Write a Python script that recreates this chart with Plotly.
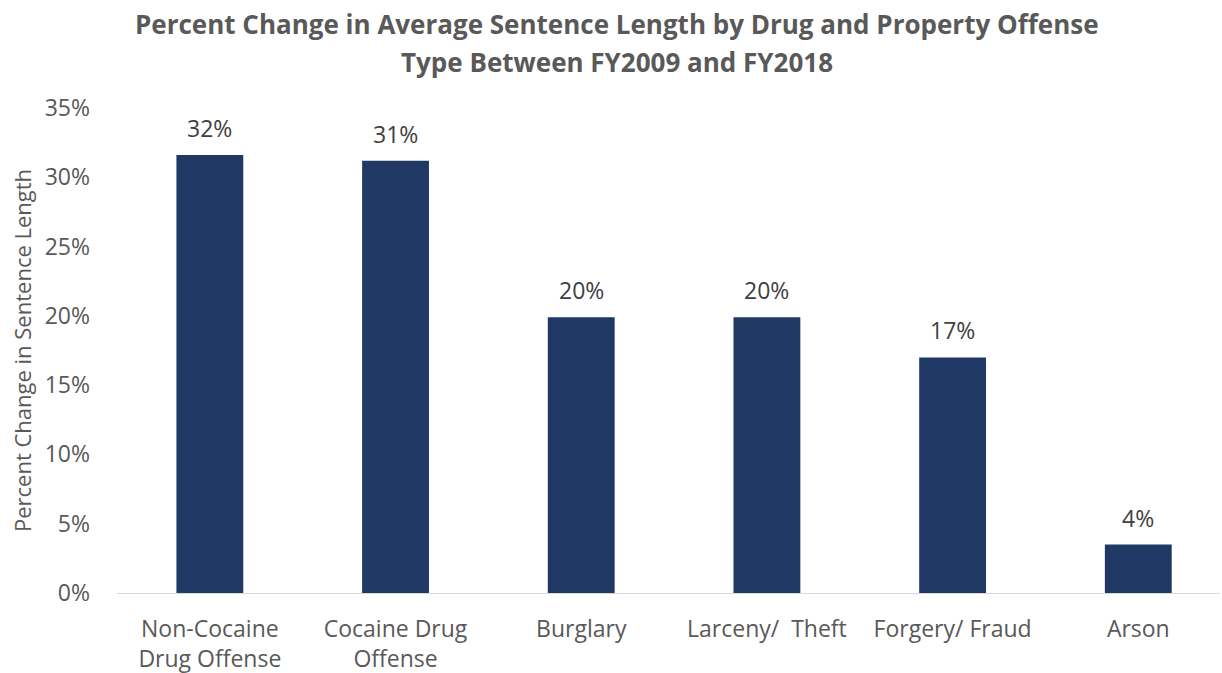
import plotly.graph_objects as go

categories = ["Non-Cocaine<br>Drug Offense", "Cocaine Drug<br>Offense", "Burglary",
              "Larceny/  Theft", "Forgery/ Fraud", "Arson"]
values = [0.316, 0.312, 0.199, 0.199, 0.170, 0.035]
labels = ["32%", "31%", "20%", "20%", "17%", "4%"]
title_lines = ["Percent Change in Average Sentence Length by Drug and Property Offense",
               "Type Between FY2009 and FY2018"]

FONT = "Open Sans"
TOP, BOTTOM, H = 108, 80, 673
plot_h = H - TOP - BOTTOM

fig = go.Figure(go.Bar(
    x=list(range(len(categories))), y=values,
    marker=dict(color="#203864", line=dict(width=0)),
    width=0.36, hoverinfo="skip",
))

annotations = []
for i, (v, t) in enumerate(zip(values, labels)):
    annotations.append(dict(x=i, y=v, xref="x", yref="y", text=t, showarrow=False,
                            yanchor="bottom", yshift=9,
                            font=dict(family=FONT, size=23, color="#404040")))
for line, ypix in zip(title_lines, [24, 62]):
    annotations.append(dict(x=0.453, y=1 + (TOP - ypix) / plot_h, xref="paper", yref="paper",
                            text="<b>" + line + "</b>", showarrow=False,
                            xanchor="center", yanchor="middle",
                            font=dict(family=FONT, size=26, color="#595959")))

fig.update_layout(
    width=1222, height=673,
    margin=dict(l=117, r=2, t=TOP, b=BOTTOM),
    paper_bgcolor="white", plot_bgcolor="white",
    showlegend=False,
    annotations=annotations,
    xaxis=dict(
        range=[-0.5, 5.44], tickmode="array",
        tickvals=list(range(len(categories))), ticktext=categories,
        tickfont=dict(family=FONT, size=23, color="#595959"),
        showgrid=False, showline=True, linecolor="#d9d9d9", linewidth=1,
        ticks="", zeroline=False, ticklabelstandoff=15, automargin=False,
    ),
    yaxis=dict(
        range=[0, 0.35], dtick=0.05, tickformat=".0%",
        tickfont=dict(family=FONT, size=23, color="#595959"),
        showgrid=False, zeroline=False, showline=False, ticks="",
        ticklabelstandoff=26, automargin=False,
        title=dict(text="Percent Change in Sentence Length",
                   font=dict(family=FONT, size=22, color="#595959"), standoff=6),
    ),
)

fig.write_html("out.html")
